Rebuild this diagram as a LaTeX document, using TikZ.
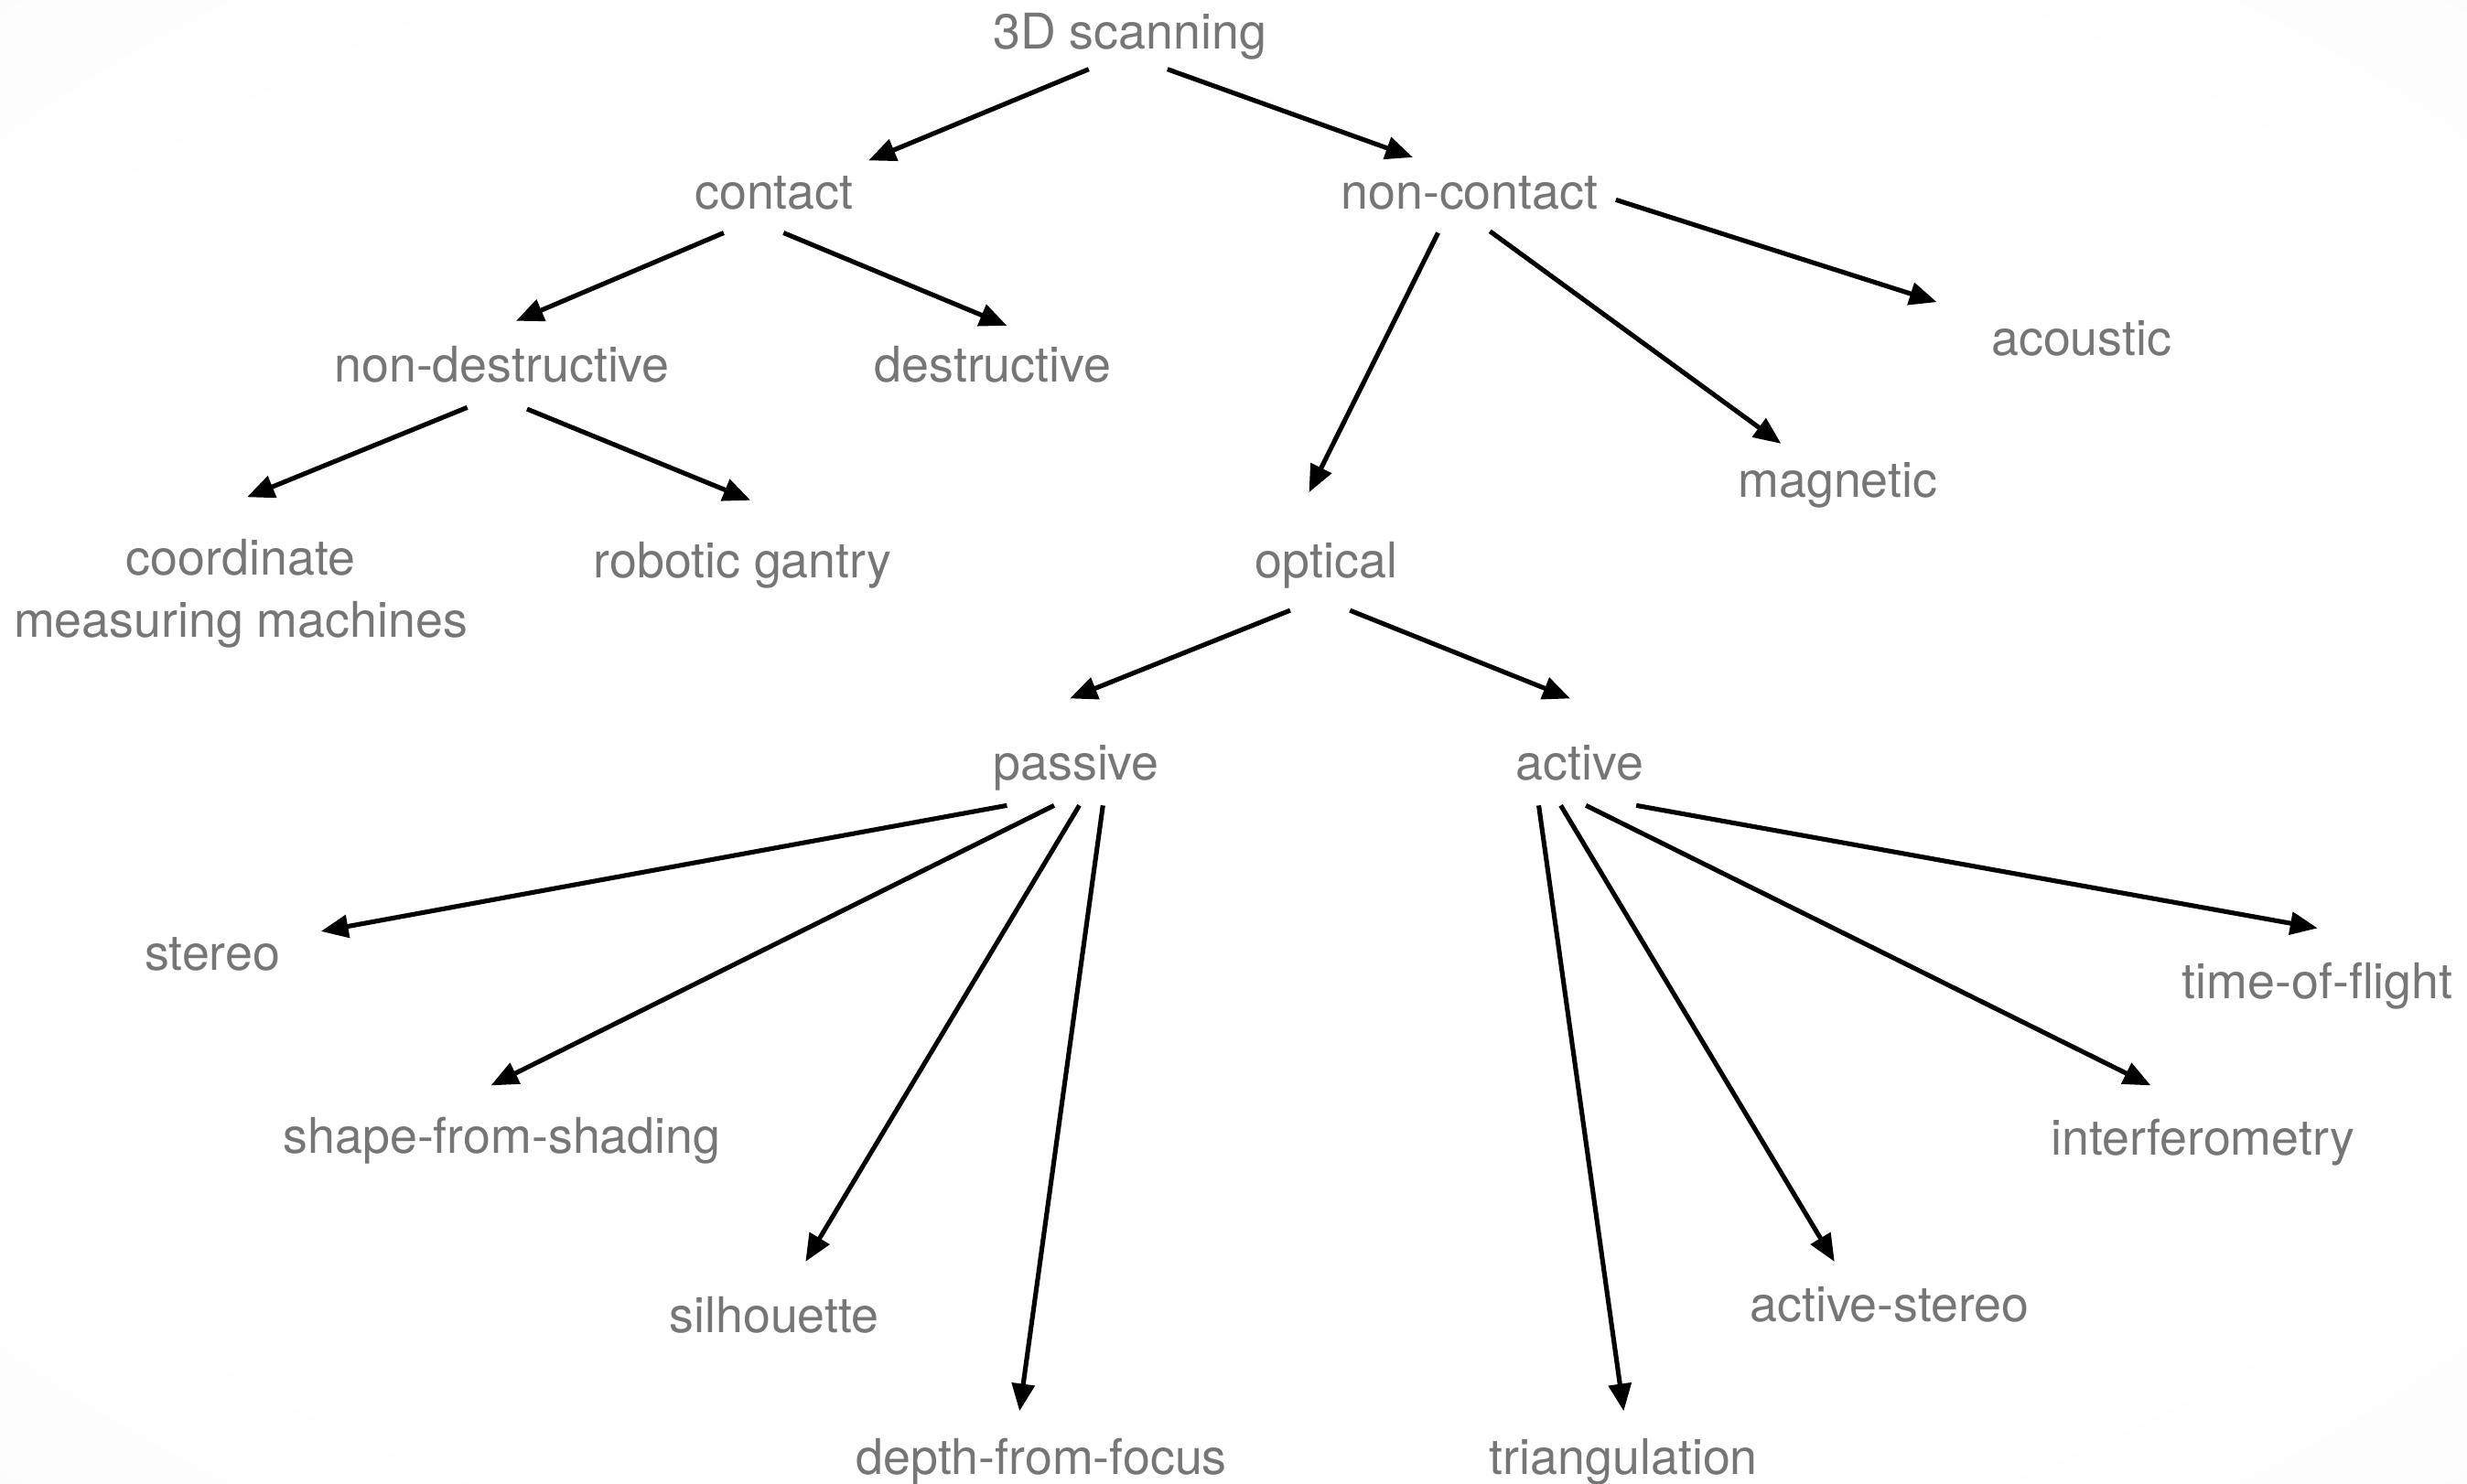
\documentclass[tikz,border=0pt]{standalone}
\usepackage{fontspec}
\setmainfont{TeX Gyre Heros}
\usepackage{tikz}
\usetikzlibrary{arrows.meta}

\definecolor{labelgray}{HTML}{767676}
\pgfdeclareradialshading{softbg}{\pgfpoint{0bp}{0bp}}{color(0bp)=(white); color(28bp)=(white); color(71bp)=(black!6)}
\tikzset{
    lbl/.style={text=labelgray, inner sep=0pt, anchor=base, font=\fontsize{15.3}{19.3}\selectfont},
    arr/.style={-{Triangle[length=8.5pt,width=7pt]}, line width=1.45pt},
}

\begin{document}
\begin{tikzpicture}[x=0.017194cm, y=-0.017194cm]
    \useasboundingbox (0,0) rectangle (1568,943);
    \shade[shading=softbg] (0,0) rectangle (1568,943);

    \node[lbl] (scan) at (718,31) {3D scanning};
    \node[lbl] (contact) at (492,133) {contact};
    \node[lbl] (noncontact) at (934,133) {non-contact};
    \node[lbl] (nondestr) at (319,243) {non-destructive};
    \node[lbl] (destr) at (631,243) {destructive};
    \node[lbl] (acoustic) at (1323,226) {acoustic};
    \node[lbl] (magnetic) at (1168,316) {magnetic};
    \node[lbl, align=center] (cmm) at (153,405) {coordinate\\measuring machines};
    \node[lbl] (gantry) at (472,367) {robotic gantry};
    \node[lbl] (optical) at (843,367) {optical};
    \node[lbl] (passive) at (684,496) {passive};
    \node[lbl] (active) at (1004,496) {active};
    \node[lbl] (stereo) at (135,617) {stereo};
    \node[lbl] (shading) at (319,733) {shape-from-shading};
    \node[lbl] (silhouette) at (492,847) {silhouette};
    \node[lbl] (focus) at (662,937) {depth-from-focus};
    \node[lbl] (triang) at (1032,937) {triangulation};
    \node[lbl] (actstereo) at (1201,840) {active-stereo};
    \node[lbl] (interf) at (1400,734) {interferometry};
    \node[lbl] (tof) at (1473,635) {time-of-flight};

    \draw[arr] ([shift={(-26,13)}]scan.base) -- ([shift={(60,-31)}]contact.base);
    \draw[arr] ([shift={(24,13)}]scan.base) -- ([shift={(-36,-33)}]noncontact.base);

    \draw[arr] ([shift={(-32,15)}]contact.base) -- ([shift={(9,-39)}]nondestr.base);
    \draw[arr] ([shift={(6,15)}]contact.base) -- ([shift={(9,-36)}]destr.base);

    \draw[arr] ([shift={(-20,15)}]noncontact.base) -- ([shift={(-11,-54)}]optical.base);
    \draw[arr] ([shift={(13,14)}]noncontact.base) -- ([shift={(-36,-34)}]magnetic.base);
    \draw[arr] ([shift={(93,-6)}]noncontact.base) -- ([shift={(-92,-34)}]acoustic.base);

    \draw[arr] ([shift={(-22,16)}]nondestr.base) -- ([shift={(4,-89)}]cmm.base);
    \draw[arr] ([shift={(16,17)}]nondestr.base) -- ([shift={(5,-49)}]gantry.base);

    \draw[arr] ([shift={(-23,21)}]optical.base) -- ([shift={(-4,-52)}]passive.base);
    \draw[arr] ([shift={(15,21)}]optical.base) -- ([shift={(-6,-52)}]active.base);

    \draw[arr] ([shift={(-44,16)}]passive.base) -- ([shift={(69,-25)}]stereo.base);
    \draw[arr] ([shift={(-14,16)}]passive.base) -- ([shift={(-7,-43)}]shading.base);
    \draw[arr] ([shift={(2,16)}]passive.base) -- ([shift={(20,-45)}]silhouette.base);
    \draw[arr] ([shift={(17,16)}]passive.base) -- ([shift={(-14,-40)}]focus.base);

    \draw[arr] ([shift={(-26,16)}]active.base) -- ([shift={(0,-40)}]triang.base);
    \draw[arr] ([shift={(-12,16)}]active.base) -- ([shift={(-35,-38)}]actstereo.base);
    \draw[arr] ([shift={(4,16)}]active.base) -- ([shift={(-33,-44)}]interf.base);
    \draw[arr] ([shift={(36,16)}]active.base) -- ([shift={(0,-45)}]tof.base);
\end{tikzpicture}
\end{document}
